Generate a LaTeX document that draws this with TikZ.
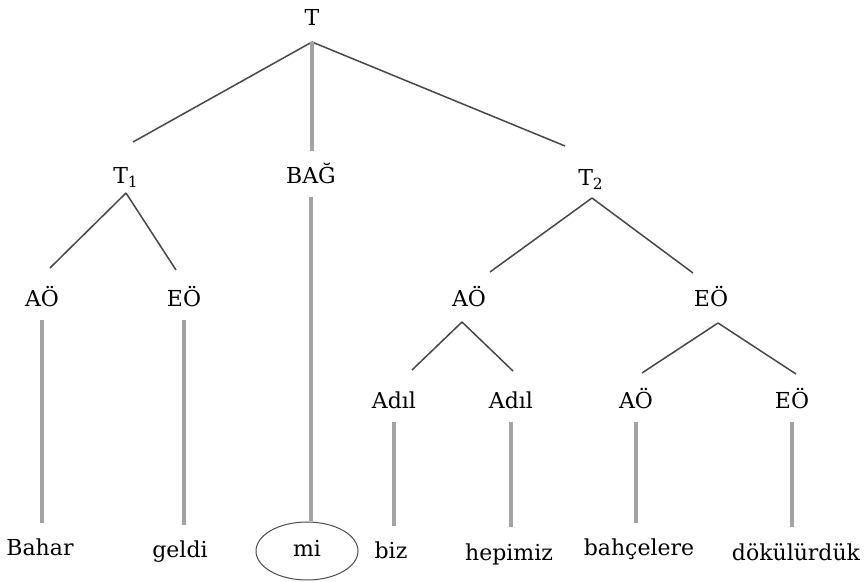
\documentclass[tikz,border=0pt]{standalone}
\usepackage{fontspec}
\setmainfont{DejaVu Serif}
\usepackage{tikz}
\usetikzlibrary{
  shapes,
  shapes.geometric,
  calc
}

\tikzset{
  lbl/.style = {inner sep=0pt, anchor=base, text height=8.5pt, text depth=2.5pt,
    font=\fontsize{11}{13}\selectfont},
  branch/.style = {draw=black!72, line width=0.75pt},
  stem/.style = {draw=black!36, line width=1.6pt, shorten <=4pt, shorten >=8pt}
}

\begin{document}
\begin{tikzpicture}[x=0.5pt, y=-0.5pt]
    \useasboundingbox (0,0) rectangle (868,582);

    \node[lbl] (T) at (312,26) {T};
    \node[lbl] (T1) at (126,184) {T\textsubscript{1}};
    \node[lbl] (bag) at (311,184) {BAĞ};
    \node[lbl] (T2) at (591,186) {T\textsubscript{2}};
    \node[lbl] (ao1) at (42,307) {AÖ};
    \node[lbl] (eo1) at (184,307) {EÖ};
    \node[lbl] (ao2) at (469,307) {AÖ};
    \node[lbl] (eo2) at (711,307) {EÖ};
    \node[lbl] (adil1) at (394,409) {Adıl};
    \node[lbl] (adil2) at (511,409) {Adıl};
    \node[lbl] (ao3) at (636,409) {AÖ};
    \node[lbl] (eo3) at (792,409) {EÖ};
    \node[lbl] (bahar) at (40,556) {Bahar};
    \node[lbl] (geldi) at (180,558) {geldi};
    \node[lbl,ellipse,draw=black!70,line width=0.5pt,minimum width=51pt,minimum height=29pt] (mi) at (307,557) {mi};
    \node[lbl] (biz) at (391,559) {biz};
    \node[lbl] (hepimiz) at (509,560) {hepimiz};
    \node[lbl] (bahceler) at (639,556) {bahçelere};
    \node[lbl] (dokuldu) at (796,560) {dökülürdük};

    \coordinate (Tj) at (312,42);
    \coordinate (T1j) at (126,193);
    \coordinate (T2j) at (592,198);
    \coordinate (ao2j) at (462,322);
    \coordinate (eo2j) at (718,323);
    \coordinate (T1e) at (133,142);
    \coordinate (T2e) at (565,146);
    \coordinate (ao1e) at (50,268);
    \coordinate (eo1e) at (176,270);
    \coordinate (ao2e) at (490,272);
    \coordinate (eo2e) at (693,273);
    \coordinate (adil1e) at (412,370);
    \coordinate (adil2e) at (513,371);
    \coordinate (ao3e) at (642,373);
    \coordinate (eo3e) at (796,374);

    \draw[branch] (Tj) -- (T1e);
    \draw[branch] (Tj) -- (T2e);
    \draw[branch] (T1j) -- (ao1e);
    \draw[branch] (T1j) -- (eo1e);
    \draw[branch] (T2j) -- (ao2e);
    \draw[branch] (T2j) -- (eo2e);
    \draw[branch] (ao2j) -- (adil1e);
    \draw[branch] (ao2j) -- (adil2e);
    \draw[branch] (eo2j) -- (ao3e);
    \draw[branch] (eo2j) -- (eo3e);

    \draw[stem,shorten <=0pt] (Tj) -- (Tj |- bag.north);
    \draw[stem,shorten >=0pt] (bag.south) -- (bag.south |- mi.north);
    \draw[stem] (ao1.south) -- (ao1.south |- bahar.north);
    \draw[stem] (eo1.south) -- (eo1.south |- geldi.north);
    \draw[stem] (adil1.south) -- (adil1.south |- biz.north);
    \draw[stem] (adil2.south) -- (adil2.south |- hepimiz.north);
    \draw[stem] (ao3.south) -- (ao3.south |- bahceler.north);
    \draw[stem] (eo3.south) -- (eo3.south |- dokuldu.north);
  \end{tikzpicture}
\end{document}
